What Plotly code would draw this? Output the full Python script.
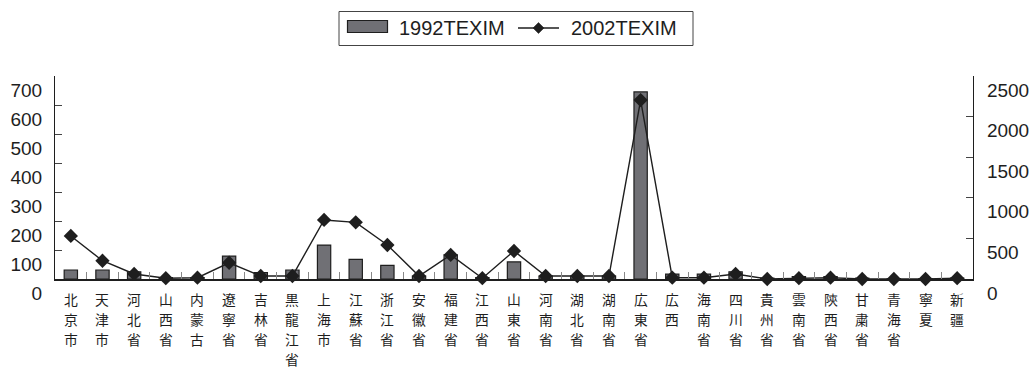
import plotly.graph_objects as go

# Provinces (vertical labels), 1992 values on left axis, 2002 values on right axis
provinces = ["北京市", "天津市", "河北省", "山西省", "内蒙古", "遼寧省", "吉林省", "黒龍江省",
             "上海市", "江蘇省", "浙江省", "安徽省", "福建省", "江西省", "山東省", "河南省",
             "湖北省", "湖南省", "広東省", "広西", "海南省", "四川省", "貴州省", "雲南省",
             "陝西省", "甘粛省", "青海省", "寧夏", "新疆"]
texim_1992 = [31, 31, 25, 5, 5, 79, 22, 31, 117, 68, 47, 10, 83, 5, 59, 10, 10, 10,
              645, 17, 17, 25, 3, 8, 8, 3, 1, 1, 3]
texim_2002 = [530, 225, 62, 10, 16, 200, 37, 37, 727, 698, 419, 37, 296, 10, 345, 37, 37, 37,
              2204, 16, 16, 62, 0, 10, 16, 0, 0, 0, 10]
left_ticks = [0, 100, 200, 300, 400, 500, 600, 700]
right_ticks = [0, 500, 1000, 1500, 2000, 2500]

W, H = 1029, 370
L, R, T, B = 55, 56, 76, 91
PW, PH = W - L - R, H - T - B

num_font = "Liberation Sans, Arial, sans-serif"
cjk_font = "Noto Sans CJK JP, sans-serif"
bar_color = "#707075"
ink = "#1e1e1e"

fig = go.Figure()
fig.add_trace(go.Bar(
    x=provinces, y=texim_1992, name="1992TEXIM", width=0.42,
    marker=dict(color=bar_color, line=dict(color=ink, width=1.2)),
    showlegend=False,
))
fig.add_trace(go.Scatter(
    x=provinces, y=texim_2002, name="2002TEXIM", yaxis="y2", mode="lines+markers",
    line=dict(color=ink, width=1.4),
    marker=dict(symbol="diamond", size=11, color=ink),
    showlegend=False, cliponaxis=False,
))


def px(x):
    return (x - L) / PW


def py(y):
    return (H - B - y) / PH


# Legend box drawn in paper coordinates
shapes = [
    dict(type="rect", xref="paper", yref="paper", x0=px(339), x1=px(693), y0=py(45.5), y1=py(11.5),
         line=dict(color="#444", width=1), fillcolor="white"),
    dict(type="rect", xref="paper", yref="paper", x0=px(347.5), x1=px(387.5), y0=py(32.5), y1=py(20.5),
         line=dict(color=ink, width=1.2), fillcolor=bar_color),
    dict(type="line", xref="paper", yref="paper", x0=px(518), x1=px(559), y0=py(28), y1=py(28),
         line=dict(color=ink, width=1.4)),
    dict(type="path", xref="paper", yref="paper",
         path=f"M {px(533)} {py(28)} L {px(538.5)} {py(22.5)} L {px(544)} {py(28)} L {px(538.5)} {py(33.5)} Z",
         line=dict(color=ink, width=0.5), fillcolor=ink),
]
annotations = [
    dict(text="1992TEXIM", xref="paper", yref="paper", x=px(397), y=py(28), xanchor="left", yanchor="middle",
         showarrow=False, font=dict(family=num_font, size=20, color=ink)),
    dict(text="2002TEXIM", xref="paper", yref="paper", x=px(569), y=py(28), xanchor="left", yanchor="middle",
         showarrow=False, font=dict(family=num_font, size=20, color=ink)),
]

# Category names written top-to-bottom, one character per row
label_size = 13.8
row_pitch = 20
first_row_center = 299
for name in provinces:
    for i, ch in enumerate(name):
        annotations.append(dict(
            text=ch, xref="x", yref="paper", x=name, y=py(first_row_center + i * row_pitch),
            xanchor="center", yanchor="middle", showarrow=False, borderpad=0,
            font=dict(family=cjk_font, size=label_size, color=ink),
        ))

fig.update_layout(
    width=W, height=H,
    margin=dict(l=L, r=R, t=T, b=B, pad=0),
    paper_bgcolor="white", plot_bgcolor="white",
    bargap=0.58,
    shapes=shapes, annotations=annotations,
    xaxis=dict(
        type="category", range=[-0.5, len(provinces) - 0.5], showticklabels=False,
        ticks="inside", tickson="boundaries", ticklen=7, tickcolor="#888", tickwidth=1,
        showline=True, linecolor=ink, linewidth=1.5, showgrid=False, zeroline=False,
        automargin=False,
    ),
    yaxis=dict(
        range=[0, 700], tickmode="array", tickvals=left_ticks,
        ticks="inside", ticklen=7, tickcolor="#444", showline=True, linecolor=ink, linewidth=1.2,
        showgrid=False, zeroline=False, automargin=False,
        tickfont=dict(family=num_font, size=19, color=ink),
        ticklabelshift=14, ticklabelstandoff=8,
    ),
    yaxis2=dict(
        range=[0, 2500], tickmode="array", tickvals=right_ticks, overlaying="y", side="right",
        ticks="inside", ticklen=7, tickcolor="#444", showline=True, linecolor=ink, linewidth=1.2,
        showgrid=False, zeroline=False, automargin=False,
        tickfont=dict(family=num_font, size=19, color=ink),
        ticklabelshift=14, ticklabelstandoff=9,
    ),
)

fig.write_html("out.html")
